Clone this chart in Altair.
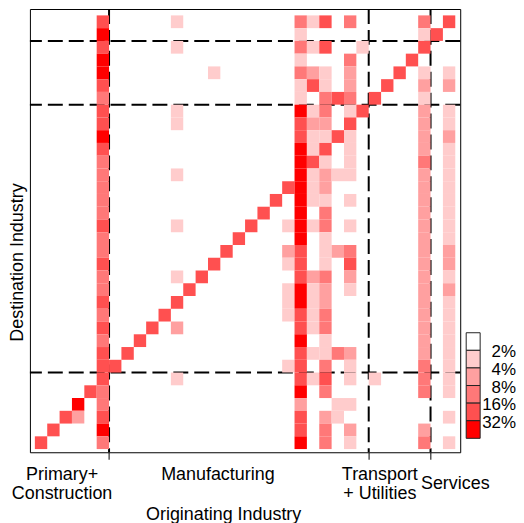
import altair as alt
import pandas as pd

# Industry groups along both axes (in order), and where their names sit on the x axis
group_names = ["Primary+\nConstruction", "Manufacturing\n", "Transport\n+ Utilities", "Services"]
group_sizes = [6, 21, 5, 2]
group_label_at = [2.7, 15.3, 28.4, 34.5]

# Colour classes (share of inputs bought from the originating industry)
legend_breaks = [2, 4, 8, 16, 32]
palette = ["#FFFFFF", "#FFCCCC", "#FFA0A0", "#FF7878", "#FF5050", "#FF0000"]
share_of_class = {"L": 3, "M": 6, "S": 12, "R": 24, "B": 45}

# One entry per destination industry, from 34 (top) down to 1 (bottom):
# "<originating industry><class>" for every coloured cell in that row
cells_by_destination = [
    "6R 12L 22S 23L 24R 26S 32S 34R",
    "6B 22L 32L 33R",
    "6R 12L 22S 23L 24R 27L 32R",
    "6B 22L 26S 31R",
    "6B 15L 22S 23M 24L 26M 30R 32L 34L",
    "6R 22L 23R 24L 26M 29R 32M 34M",
    "6S 22L 24S 25R 26S 28R 32L",
    "6R 12L 22B 23L 24S 26L 27R 32M 34L",
    "6R 12L 22R 23M 24M 26R 32M 34L",
    "6B 22R 23L 24L 25R 26L 32M 34M",
    "6R 22B 23L 24R 26L 32M 34L",
    "6S 22B 23R 24L 26L 32S 34L",
    "6S 12L 22B 23L 24M 25L 26L 32M 34L",
    "6S 21R 22B 23L 24M 32M 34L",
    "6S 20R 22B 23L 24L 26L 32M 34L",
    "6S 19R 22B 24S 32M 34L",
    "6R 12L 18R 21L 22B 23L 24S 26L 32M 34L",
    "6S 17R 22B 24L 32M 34L",
    "6S 16R 21M 22R 24L 25M 26S 32M 34M",
    "6R 15R 21L 22R 24L 26R 32M 34M",
    "6S 12L 14R 22R 23M 24S 26M 32M 34L",
    "6S 13R 21L 22B 23L 24M 26L 32M 34M",
    "6R 12R 21L 22B 23L 24M 32M 34L",
    "6S 11R 21L 22R 23L 24S 32M 34L",
    "6R 10R 12M 22R 23L 24S 32M 34L",
    "6S 9R 22B 24L 32M 34L",
    "6R 8R 22R 23L 24L 25S 26M 32M 34L",
    "6R 7R 21L 22R 24S 26L 32S 34L",
    "6R 12L 22R 23L 24R 26L 28L 32S 34L",
    "5R 6S 22B 24S 32S 34L",
    "4B 6S 22M 25L 26L",
    "3R 4M 6R 22R 24M 25L 34L",
    "2R 6B 22R 24S 26M 32M",
    "1R 6S 22B 24S 26L 32S 34L",
]

n = sum(group_sizes)
records = []
for dest, spec in zip(range(n, 0, -1), cells_by_destination):
    for tok in spec.split():
        records.append({"orig": int(tok[:-1]), "dest": dest, "share": share_of_class[tok[-1]]})
cells = pd.DataFrame(records)

boundaries = []
acc = 0
for s in group_sizes[:-1]:
    acc += s
    boundaries.append(acc + 0.5)
bounds = pd.DataFrame({"pos": boundaries})
labels = pd.DataFrame({"label": group_names, "pos": group_label_at})

legend_boxes = pd.DataFrame({"lo": list(range(len(palette))),
                             "hi": [i + 1 for i in range(len(palette))],
                             "fill": palette})
legend_labels = pd.DataFrame({"pos": [i + 1 for i in range(len(legend_breaks))],
                              "text": [f"{b}%" for b in legend_breaks]})

FONT = "Liberation Sans"
W, H = 432, 445
xscale = alt.Scale(domain=[0.1, n + 0.9], nice=False, zero=False)
yscale = alt.Scale(domain=[0.25, n + 1.0], nice=False, zero=False)

xaxis = alt.Axis(values=boundaries, labels=False, ticks=True, tickSize=7, tickColor="black",
                 tickWidth=1, domain=False, grid=False, title="Originating Industry",
                 titleX=194, titleY=63, titleBaseline="middle", titleAlign="center",
                 titleFontSize=18, titleFontWeight="normal", titleFont=FONT, titleColor="black")
yaxis = alt.Axis(labels=False, ticks=False, domain=False, grid=False, title="Destination Industry",
                 titleX=-12, titleY=254, titleBaseline="middle", titleAlign="center", titleAngle=270,
                 titleFontSize=18, titleFontWeight="normal", titleFont=FONT, titleColor="black")

hrules = alt.Chart(bounds).mark_rule(color="black", strokeWidth=2, strokeDash=[15, 6]).encode(
    y=alt.Y("pos:Q", scale=yscale, axis=yaxis))
vrules = alt.Chart(bounds).mark_rule(color="black", strokeWidth=2, strokeDash=[15, 6]).encode(
    x=alt.X("pos:Q", scale=xscale, axis=xaxis))

rects = alt.Chart(cells).transform_calculate(
    x0="datum.orig - 0.5", x1="datum.orig + 0.5", y0="datum.dest - 0.5", y1="datum.dest + 0.5"
).mark_rect(strokeWidth=0).encode(
    x=alt.X("x0:Q", scale=xscale, axis=xaxis),
    x2="x1:Q",
    y=alt.Y("y0:Q", scale=yscale, axis=yaxis),
    y2="y1:Q",
    color=alt.Color("share:Q",
                    scale=alt.Scale(type="threshold", domain=legend_breaks, range=palette),
                    legend=None),
)

main = alt.layer(hrules, vrules, rects)

# group names under the x axis; multi-line names are centred on the same line as one-line ones
LINE_H = 19
texts = alt.Chart(labels).transform_calculate(
    ypix=f"{H + 32} - (length(split(datum.label, '\\n')) - 1) * {LINE_H / 2}"
).mark_text(lineBreak="\n", baseline="middle", align="center",
            fontSize=18, lineHeight=LINE_H, font=FONT, color="black").encode(
    x=alt.X("pos:Q", scale=xscale, axis=None),
    y=alt.Y("ypix:Q", scale=None, axis=None),
    text="label:N",
)

# hand-drawn stacked colour key to the right of the panel
key_y = alt.Scale(domain=[0, len(palette)], range=[325, 431], nice=False, zero=False)
key_boxes = alt.Chart(legend_boxes).mark_rect(stroke="#222222", strokeWidth=1).encode(
    x=alt.value(W + 6), x2=alt.value(W + 20),
    y=alt.Y("lo:Q", scale=key_y, axis=None), y2="hi:Q",
    color=alt.Color("fill:N", scale=None),
)
key_text = alt.Chart(legend_labels).mark_text(align="right", baseline="middle", dy=2,
                                              fontSize=17, font=FONT, color="black").encode(
    x=alt.value(W + 56),
    y=alt.Y("pos:Q", scale=key_y, axis=None),
    text="text:N",
)
key = alt.layer(key_boxes, key_text)

chart = alt.layer(main, texts, key).resolve_scale(x="independent", y="independent").properties(
    width=W, height=H,
    autosize=alt.AutoSizeParams(type="none"),
    padding={"left": 22, "top": 0, "right": 56, "bottom": 70},
).configure_view(stroke="black", strokeWidth=1).configure_axis(grid=False)

chart.save("out.html", embed_options={"renderer": "svg", "actions": False})
